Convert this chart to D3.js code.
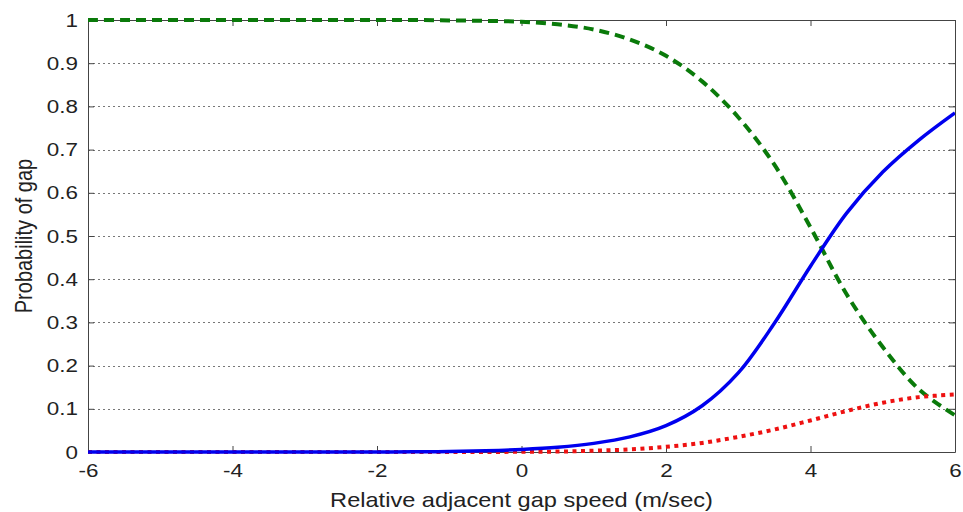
<!DOCTYPE html>
<html>
<head>
<meta charset="utf-8">
<script src="https://cdn.jsdelivr.net/npm/d3@7/dist/d3.min.js"></script>
<style>
  html, body { margin: 0; padding: 0; background: #fff; }
  svg { display: block; }
  text { font-family: "Liberation Sans", Arial, Helvetica, sans-serif; fill: #222; }
</style>
</head>
<body>
<svg id="chart" width="963" height="512"></svg>
<script>
// Relative adjacent gap speed (m/sec)
const speed = [-6, -5.5, -5, -4.5, -4, -3.5, -3, -2.5, -2, -1.5, -1, -0.5,
               0, 0.5, 1, 1.5, 2, 2.5, 3, 3.5, 4, 4.5, 5, 5.5, 6];

// Probability curves
const probSolid = [0, 0, 0, 0, 0, 0, 0, 0, 0, 0.0005, 0.001, 0.003,
                   0.006, 0.011, 0.02, 0.035, 0.061, 0.107, 0.183, 0.298, 0.43, 0.553, 0.648, 0.722, 0.785];
const probDashed = [1, 1, 1, 1, 1, 1, 1, 1, 1, 1, 0.999, 0.998,
                    0.996, 0.99, 0.978, 0.955, 0.917, 0.858, 0.775, 0.665, 0.52, 0.365, 0.243, 0.145, 0.085];
const probDotted = [0, 0, 0, 0, 0, 0, 0, 0, 0, 0, 0, 0,
                    0.0005, 0.001, 0.003, 0.006, 0.012, 0.021, 0.035, 0.052, 0.073, 0.095, 0.114, 0.127, 0.133];

const xTicks = [-6, -4, -2, 0, 2, 4, 6];
const yTicks = [0, 0.1, 0.2, 0.3, 0.4, 0.5, 0.6, 0.7, 0.8, 0.9, 1];
const yTickLabels = ["0", "0.1", "0.2", "0.3", "0.4", "0.5", "0.6", "0.7", "0.8", "0.9", "1"];

const xLabel = "Relative adjacent gap speed (m/sec)";
const yLabel = "Probability of gap";

const svg = d3.select("#chart");
const plotL = 88, plotR = 955, plotT = 20, plotB = 452;
const textStretch = 1.18;   // glyphs are drawn slightly wide

const x = d3.scaleLinear().domain([-6, 6]).range([plotL, plotR]);
const y = d3.scaleLinear().domain([0, 1]).range([plotB, plotT]);

// clip for the curves
svg.append("defs").append("clipPath").attr("id", "plotClip")
  .append("rect").attr("x", plotL).attr("y", plotT - 3)
  .attr("width", plotR - plotL).attr("height", plotB - plotT + 6);

// horizontal dotted grid
svg.append("g").selectAll("line")
  .data(yTicks.filter(v => v > 0 && v < 1))
  .join("line")
  .attr("x1", plotL).attr("x2", plotR)
  .attr("y1", d => Math.round(y(d)) + 0.5).attr("y2", d => Math.round(y(d)) + 0.5)
  .attr("stroke", "#777").attr("stroke-width", 1)
  .attr("stroke-dasharray", "2,3");

// axes with inward ticks on all four sides
const tickLen = 6;
const axisBottom = d3.axisBottom(x).tickValues(xTicks).tickSizeInner(-tickLen).tickSizeOuter(0).tickPadding(12)
  .tickFormat(d => String(d));
const axisTop = d3.axisTop(x).tickValues(xTicks).tickSizeInner(-tickLen).tickSizeOuter(0).tickFormat("");
const axisLeft = d3.axisLeft(y).tickValues(yTicks).tickSizeInner(-tickLen).tickSizeOuter(0).tickPadding(8.5)
  .tickFormat((d, i) => yTickLabels[i]);
const axisRight = d3.axisRight(y).tickValues(yTicks).tickSizeInner(-tickLen).tickSizeOuter(0).tickFormat("");

function styleAxis(g) {
  g.select(".domain").attr("stroke", "#444");
  g.selectAll(".tick line").attr("stroke", "#444");
  g.selectAll(".tick text").attr("font-size", 19).attr("fill", "#222")
    .attr("font-family", "'Liberation Sans', Arial, sans-serif")
    .attr("transform", `scale(${textStretch},1)`);
}

svg.append("g").attr("transform", `translate(0,${plotB})`).call(axisBottom).call(styleAxis);
svg.append("g").attr("transform", `translate(0,${plotT})`).call(axisTop).call(styleAxis);
svg.append("g").attr("transform", `translate(${plotL},0)`).call(axisLeft).call(styleAxis);
svg.append("g").attr("transform", `translate(${plotR},0)`).call(axisRight).call(styleAxis);

// curves
const line = vals => d3.line()
  .x((d, i) => x(speed[i]))
  .y(d => y(d))
  .curve(d3.curveCatmullRom.alpha(0.5))(vals);

const curves = svg.append("g").attr("clip-path", "url(#plotClip)");

curves.append("path").attr("d", line(probDashed))
  .attr("fill", "none").attr("stroke", "#0a7a0a").attr("stroke-width", 4)
  .attr("stroke-dasharray", "10,6");

curves.append("path").attr("d", line(probDotted))
  .attr("fill", "none").attr("stroke", "#ee1111").attr("stroke-width", 4)
  .attr("stroke-dasharray", "4,4.5");

curves.append("path").attr("d", line(probSolid))
  .attr("fill", "none").attr("stroke", "#0000ee").attr("stroke-width", 3.5);

// axis labels
svg.append("text")
  .attr("transform", `translate(${(plotL + plotR) / 2},507) scale(${textStretch},1)`)
  .attr("text-anchor", "middle").attr("font-size", 20)
  .text(xLabel);

svg.append("text")
  .attr("transform", `translate(32,${(plotT + plotB) / 2}) scale(${textStretch},1) rotate(-90)`)
  .attr("text-anchor", "middle").attr("font-size", 20)
  .text(yLabel);
</script>
</body>
</html>
